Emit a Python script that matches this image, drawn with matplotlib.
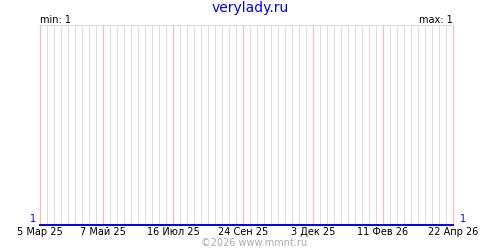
import datetime as dt
import matplotlib
matplotlib.use("Agg")
import matplotlib.pyplot as plt
import matplotlib.dates as mdates

# data
title = "verylady.ru"
dates = [dt.date(2025, 3, 5), dt.date(2026, 4, 22)]
values = [1, 1]
tick_dates = [dt.date(2025, 3, 5), dt.date(2025, 5, 7), dt.date(2025, 7, 16),
              dt.date(2025, 9, 24), dt.date(2025, 12, 3), dt.date(2026, 2, 11),
              dt.date(2026, 4, 22)]
tick_labels = ["5 Мар 25", "7 Май 25", "16 Июл 25", "24 Сен 25",
               "3 Дек 25", "11 Фев 26", "22 Апр 26"]
footer = "©2026 www.mmnt.ru"

vmin, vmax = min(values), max(values)

fig = plt.figure(figsize=(5, 2.5), dpi=100)
ax = fig.add_axes([0.08, 0.1, 0.826, 0.8])

x0, x1 = mdates.date2num(dates[0]), mdates.date2num(dates[-1])
ax.set_xlim(x0, x1)
ax.set_ylim(vmin, vmin + 1)

# weekly grid, pink at the labelled dates
pink = [mdates.date2num(t) for t in tick_dates]
d = x0
while d <= x1 + 0.01:
    if min(abs(d - p) for p in pink) > 0.5:
        ax.axvline(d, color="#dddddd", lw=0.72, zorder=1, snap=True)
    d += 7
for p in pink:
    ax.axvline(p, color="#ffb8b8", lw=0.9, zorder=2, snap=True, clip_on=False)

ax.plot(mdates.date2num(dates), values, color="#0000ee", lw=1.4, zorder=3,
        clip_on=False)

for s in ["left", "right", "bottom"]:
    ax.spines[s].set_visible(False)
ax.spines["top"].set_color("#dddddd")

ax.set_yticks([])
ax.set_xticks(pink)
ax.set_xticklabels(tick_labels, fontsize=7)
ax.tick_params(axis="x", length=0, pad=1.5)

fig.text(0.5, 0.968, title, color="#0000ff", fontsize=10, ha="center", va="center")
ax.text(0.001, 1.025, "min: %d" % vmin, transform=ax.transAxes, fontsize=7,
        ha="left", va="center")
ax.text(1.0, 1.025, "max: %d" % vmax, transform=ax.transAxes, fontsize=7,
        ha="right", va="center")
ax.text(-0.017, 0.005, str(values[0]), transform=ax.transAxes, fontsize=7,
        color="#0000ee", ha="center", va="bottom")
ax.text(1.024, 0.005, str(values[-1]), transform=ax.transAxes, fontsize=7,
        color="#0000ee", ha="center", va="bottom")
fig.text(0.508, 0.028, footer, color="#aaaaaa", fontsize=7, ha="center", va="center")

fig.savefig("out.png", dpi=100)
